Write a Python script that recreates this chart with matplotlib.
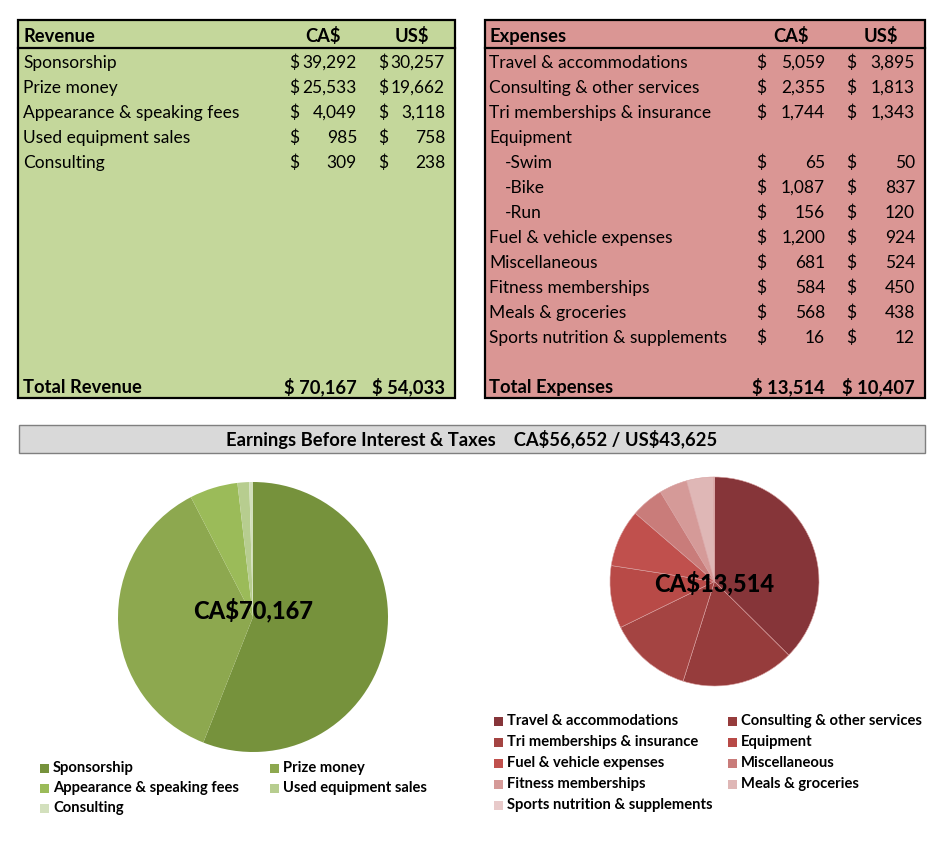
import matplotlib.pyplot as plt
from matplotlib.patches import Rectangle

plt.rcParams['font.family'] = ['Lato', 'DejaVu Sans']
plt.rcParams['text.parse_math'] = False

# ---- data ----
rev_labels = ["Sponsorship", "Prize money", "Appearance & speaking fees",
              "Used equipment sales", "Consulting"]
rev_cad = [39292, 25533, 4049, 985, 309]
rev_usd = [30257, 19662, 3118, 758, 238]
rev_total = (70167, 54033)

exp_rows = ["Travel & accommodations", "Consulting & other services",
            "Tri memberships & insurance", "Equipment", "-Swim", "-Bike", "-Run",
            "Fuel & vehicle expenses", "Miscellaneous", "Fitness memberships",
            "Meals & groceries", "Sports nutrition & supplements"]
exp_cad = [5059, 2355, 1744, None, 65, 1087, 156, 1200, 681, 584, 568, 16]
exp_usd = [3895, 1813, 1343, None, 50, 837, 120, 924, 524, 450, 438, 12]
exp_total = (13514, 10407)

ebit_cad = 56652
ebit_usd = 43625

exp_pie_labels = ["Travel & accommodations", "Consulting & other services",
                  "Tri memberships & insurance", "Equipment",
                  "Fuel & vehicle expenses", "Miscellaneous",
                  "Fitness memberships", "Meals & groceries",
                  "Sports nutrition & supplements"]
exp_pie_values = [5059, 2355, 1744, 1308, 1200, 681, 584, 568, 16]

rev_colors = ["#76923C", "#8DA84F", "#9BBB59", "#B7CD8F", "#D3E0BD"]
exp_colors = ["#863539", "#963C3C", "#A44442", "#B84A47", "#C0504D",
              "#C97C7A", "#D59A98", "#DFB7B6", "#E8CACA"]

W, H = 946, 850
fig = plt.figure(figsize=(W / 100, H / 100), dpi=100)
ax = fig.add_axes([0, 0, 1, 1])
ax.set_xlim(0, W)
ax.set_ylim(H, 0)
ax.axis("off")

FS = 12.5
FB = 13.2  # bold header size


def table(x0, x1, bg, title, cols, rows, cad, usd, total_label, total,
          indent=()):
    ax.add_patch(Rectangle((x0, 20), x1 - x0, 378, facecolor=bg,
                           edgecolor="black", lw=1.6, zorder=1))
    ax.plot([x0, x1], [48, 48], color="black", lw=1.6, zorder=2)
    lx, d1, n1, d2, n2 = cols
    ax.text(lx, 36, title, fontsize=FB, fontweight="bold", va="center")
    ax.text((d1 + n1) / 2, 36, "CA$", fontsize=FB, fontweight="bold",
            va="center", ha="center")
    ax.text((d2 + n2) / 2, 36, "US$", fontsize=FB, fontweight="bold",
            va="center", ha="center")
    for i, name in enumerate(rows):
        y = 63 + 25 * i
        ax.text(lx + (16 if i in indent else 0), y, name, fontsize=FS,
                va="center")
        if cad[i] is None:
            continue
        ax.text(d1, y, "$", fontsize=FS, va="center")
        ax.text(n1, y, f"{cad[i]:,}", fontsize=FS, va="center", ha="right")
        ax.text(d2, y, "$", fontsize=FS, va="center")
        ax.text(n2, y, f"{usd[i]:,}", fontsize=FS, va="center", ha="right")
    y = 387
    ax.text(lx, y, total_label, fontsize=FB, fontweight="bold", va="center")
    ax.text(n1, y, f"$ {total[0]:,}", fontsize=FB, fontweight="bold",
            va="center", ha="right")
    ax.text(n2, y, f"$ {total[1]:,}", fontsize=FB, fontweight="bold",
            va="center", ha="right")


table(18, 455, "#C4D79B", "Revenue", (23, 289, 357, 378, 445),
      rev_labels, rev_cad, rev_usd, "Total Revenue", rev_total)
table(485, 925, "#DA9694", "Expenses", (489, 756, 825, 846, 915),
      exp_rows, exp_cad, exp_usd, "Total Expenses", exp_total,
      indent=(4, 5, 6))

# banner
ax.add_patch(Rectangle((19, 425), 906, 28, facecolor="#D9D9D9",
                       edgecolor="#7F7F7F", lw=1.0))
ax.text(472, 439.5,
        f"Earnings Before Interest & Taxes    CA${ebit_cad:,} / US${ebit_usd:,}",
        fontsize=FB, fontweight="bold", ha="center", va="center")


def pie(cx, cy, r, values, colors, label, ly, edge):
    pax = fig.add_axes([(cx - r) / W, (H - cy - r) / H, 2 * r / W, 2 * r / H])
    pax.pie(values, colors=colors, startangle=90, counterclock=False,
            wedgeprops=dict(edgecolor=edge, linewidth=0.4 if edge else 0))
    pax.set_xlim(-1, 1)
    pax.set_ylim(-1, 1)
    pax.text(0, (cy - ly) / r, label, fontsize=17, fontweight="black",
             ha="center", va="center")


pie(253, 617, 135, rev_cad, rev_colors, f"CA${rev_total[0]:,}", 610, None)
pie(714.5, 581.5, 104.5, exp_pie_values, exp_colors,
    f"CA${exp_total[0]:,}", 583, "#D8A0A0")


def legend(names, colors, xs, y0, dy):
    for i, (n, c) in enumerate(zip(names, colors)):
        x = xs[i % 2]
        y = y0 + dy * (i // 2)
        ax.add_patch(Rectangle((x, y - 4.5), 9, 9, facecolor=c,
                               edgecolor="none"))
        ax.text(x + 13, y, n, fontsize=10.6, fontweight="bold", va="center")


legend(rev_labels, rev_colors, (40, 270), 768, 20)
legend(exp_pie_labels, exp_colors, (494, 728), 721, 21)

fig.savefig("out.png", dpi=100)
